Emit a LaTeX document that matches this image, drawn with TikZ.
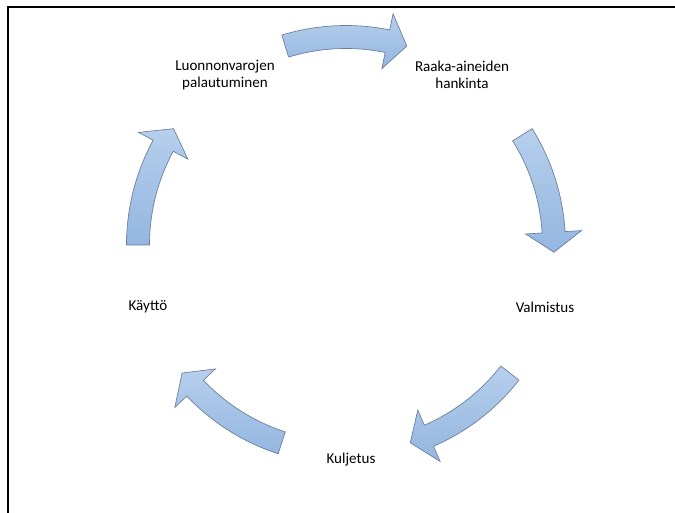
\documentclass[tikz,border=0pt]{standalone}
\usepackage{fontspec}
\setmainfont{Carlito}
\usetikzlibrary{positioning}

\definecolor{arrowtop}{RGB}{182,207,236}
\definecolor{arrowbot}{RGB}{148,182,224}
\definecolor{arrowline}{RGB}{105,125,155}

\begin{document}
\begin{tikzpicture}[x=0.75pt, y=0.75pt, font=\fontsize{11.3}{12.75}\selectfont]
  \tikzstyle{cyc} = [draw=arrowline, line width=0.5pt, top color=arrowtop, bottom color=arrowbot]
  \tikzstyle{stage} = [align=center, inner sep=1pt]
  \tikzstyle{frame} = [line width=1.5pt, black]
  \useasboundingbox (-346,-268) rectangle (329,245);
  \coordinate (hub) at (0,0);

  % frame
  \coordinate (fbl) at (-338,-268);
  \coordinate (ftl) at (-338,238);
  \coordinate (ftr) at (329,238);
  \draw [frame] (fbl) -- (ftl) -- (ftr);

  % stages
  \node [stage] (recover) at (-121,170) {Luonnonvarojen\\palautuminen};
  \node [stage] (raw) at (116,170) {Raaka-aineiden\\hankinta};
  \node [stage] (make) at (199,-62) {Valmistus};
  \node [stage] (ship) at (5,-215) {Kuljetus};
  \node [stage] (use) at (-198,-62) {Käyttö};

  % curved block arrows
  \foreach \c in {90,15,-55,-125,163} {
    \pgfmathsetmacro{\s}{\c+17}
    \pgfmathsetmacro{\e}{\c-17}
    \pgfmathsetmacro{\b}{\c-11.5}
    \draw [cyc] (\s:219.5) arc[start angle=\s, end angle=\b, radius=219.5]
      -- (\b:236) -- (\e:208) -- (\b:180) -- (\b:196.5)
      arc[start angle=\b, end angle=\s, radius=196.5] -- cycle;
  }
\end{tikzpicture}
\end{document}
